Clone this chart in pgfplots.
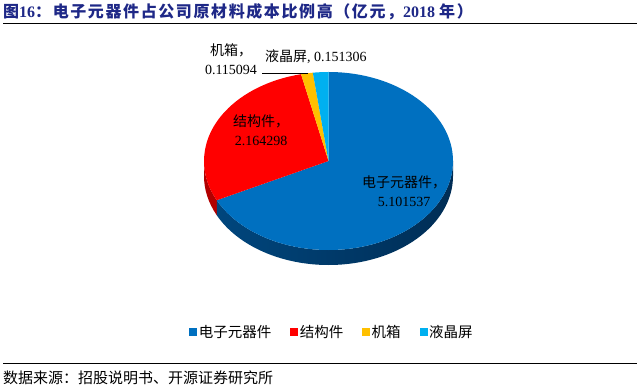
\documentclass[border=0pt]{standalone}
\usepackage{pgfplots}
\pgfplotsset{compat=1.18}
\usepackage{pgfplotstable}
\usepackage{fontspec}
\setmainfont{Liberation Serif}
\newfontfamily\cjk{Noto Sans CJK SC}
\newfontfamily\cjktitle[LetterSpace=10]{Noto Sans CJK SC}
\definecolor{c1}{RGB}{0,112,192}
\definecolor{c2}{RGB}{255,0,0}
\definecolor{c3}{RGB}{255,192,0}
\definecolor{c4}{RGB}{0,176,240}
\definecolor{titleblue}{RGB}{30,40,135}
\pgfplotstableread{
name value
a 5.101537
b 2.164298
c 0.115094
d 0.151306
}\piedata
\begin{document}
\begin{tikzpicture}
\pgfplotstablegetelem{0}{value}\of\piedata \let\va\pgfplotsretval
\pgfplotstablegetelem{1}{value}\of\piedata \let\vb\pgfplotsretval
\pgfplotstablegetelem{2}{value}\of\piedata \let\vc\pgfplotsretval
\pgfplotstablegetelem{3}{value}\of\piedata \let\vd\pgfplotsretval
\pgfmathsetmacro\T{\va+\vb+\vc+\vd}
\pgfmathsetmacro\aA{90}
\pgfmathsetmacro\aB{90-360*\va/\T}
\pgfmathsetmacro\aC{\aB-360*\vb/\T}
\pgfmathsetmacro\aD{\aC-360*\vc/\T}
\pgfmathsetmacro\aE{\aD-360*\vd/\T}
\pgfmathsetmacro\sB{\aB+360}
\def\cx{328.5}\def\cy{225}
\begin{axis}[hide axis, scale only axis, width=640bp, height=386bp,
  xmin=0, xmax=640, ymin=0, ymax=386, clip=false,
  legend columns=4,
  legend style={at={(332/640,54/386)}, anchor=center, draw=none, fill=none,
    font=\cjk\fontsize{14.5bp}{16bp}\selectfont,
    /tikz/every even column/.append style={column sep=17bp}},
  ]
\path (axis cs:0,0) rectangle (axis cs:640,386);
% sides
\fill[red!70!black] ([shift={(180:124.5bp and 89bp)}]axis cs:\cx,\cy) arc[start angle=180,end angle=\sB,x radius=124.5bp,y radius=89bp] -- ++(0,-15bp) arc[start angle=\sB,end angle=180,x radius=124.5bp,y radius=89bp] -- cycle;
\shade[left color={rgb,255:red,0;green,70;blue,125}, middle color={rgb,255:red,0;green,92;blue,160}, right color={rgb,255:red,0;green,45;blue,85}] ([shift={(\sB:124.5bp and 89bp)}]axis cs:\cx,\cy) arc[start angle=\sB,end angle=360,x radius=124.5bp,y radius=89bp] -- ++(0,-15bp) arc[start angle=360,end angle=\sB,x radius=124.5bp,y radius=89bp] -- cycle;
% top
\fill[c1] (axis cs:\cx,\cy) -- ([shift={(\aA:124.5bp and 89bp)}]axis cs:\cx,\cy) arc[start angle=\aA,end angle=\aB,x radius=124.5bp,y radius=89bp] -- cycle;
\fill[c2] (axis cs:\cx,\cy) -- ([shift={(\aB:124.5bp and 89bp)}]axis cs:\cx,\cy) arc[start angle=\aB,end angle=\aC,x radius=124.5bp,y radius=89bp] -- cycle;
\fill[c3] (axis cs:\cx,\cy) -- ([shift={(\aC:124.5bp and 89bp)}]axis cs:\cx,\cy) arc[start angle=\aC,end angle=\aD,x radius=124.5bp,y radius=89bp] -- cycle;
\fill[c4] (axis cs:\cx,\cy) -- ([shift={(\aD:124.5bp and 89bp)}]axis cs:\cx,\cy) arc[start angle=\aD,end angle=\aE,x radius=124.5bp,y radius=89bp] -- cycle;
% labels
\node[align=center, font=\fontsize{14bp}{19bp}\selectfont] at (axis cs:231,327) {{\cjk 机箱，}\\0.115094};
\draw[black, line width=0.6bp] (axis cs:262,313) -- (axis cs:308,313);
\node[anchor=west, font=\fontsize{14bp}{19bp}\selectfont, inner sep=0pt] at (axis cs:265,329) {{\cjk 液晶屏}, 0.151306};
\node[align=center, font=\fontsize{14bp}{19bp}\selectfont] at (axis cs:261,256) {{\cjk 结构件，}\\2.164298};
\node[align=center, font=\fontsize{14bp}{19bp}\selectfont] at (axis cs:404,195) {{\cjk 电子元器件，}\\5.101537};
% title and source
\node[anchor=west, inner sep=0pt, text=titleblue, font=\fontsize{16bp}{18bp}\selectfont\bfseries] at (axis cs:3,374) {{\cjktitle\bfseries 图}16{\cjktitle\bfseries ：电子元器件占公司原材料成本比例高（亿元，}2018 {\cjktitle\bfseries 年）}};
\draw[black, line width=1bp] (axis cs:3,362) -- (axis cs:637,362);
\draw[black, line width=1bp] (axis cs:3,23) -- (axis cs:637,23);
\node[anchor=west, inner sep=0pt, font=\cjk\fontsize{15bp}{16bp}\selectfont] at (axis cs:3,8.5) {数据来源：招股说明书、开源证券研究所};
% legend
\addlegendimage{legend image code/.code={\fill[c1] (0bp,-3.5bp) rectangle (7bp,3.5bp);}}
\addlegendentry{电子元器件}
\addlegendimage{legend image code/.code={\fill[c2] (0bp,-3.5bp) rectangle (7bp,3.5bp);}}
\addlegendentry{结构件}
\addlegendimage{legend image code/.code={\fill[c3] (0bp,-3.5bp) rectangle (7bp,3.5bp);}}
\addlegendentry{机箱}
\addlegendimage{legend image code/.code={\fill[c4] (0bp,-3.5bp) rectangle (7bp,3.5bp);}}
\addlegendentry{液晶屏}
\end{axis}
\end{tikzpicture}
\end{document}
